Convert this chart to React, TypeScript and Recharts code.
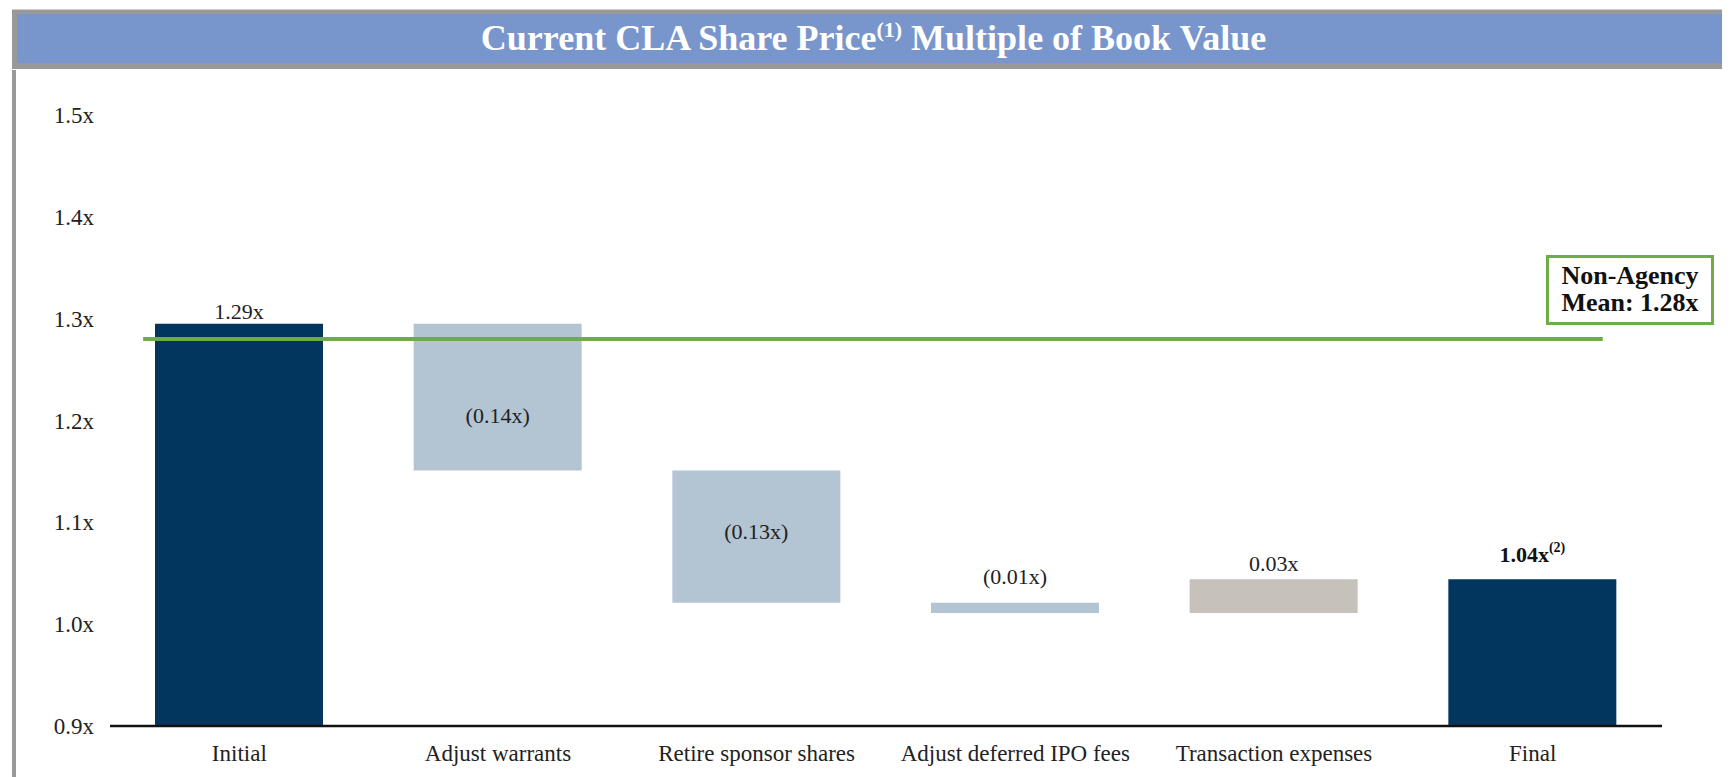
import { Bar, BarChart, Cell, LabelList, ReferenceLine, XAxis, YAxis } from 'recharts'

const categories = [
  'Initial',
  'Adjust warrants',
  'Retire sponsor shares',
  'Adjust deferred IPO fees',
  'Transaction expenses',
  'Final',
]
const startValue = 1.295
const steps = [-0.144, -0.13, -0.01, 0.033]
const valueLabels = ['1.29x', '(0.14x)', '(0.13x)', '(0.01x)', '0.03x', '1.04x']
const yTicks = [0.9, 1.0, 1.1, 1.2, 1.3, 1.4, 1.5]
const peerMean = 1.28

const SERIF = "'Liberation Serif', 'Times New Roman', serif"
const NAVY = '#03365f'
const DOWN = '#b3c4d3'
const UP = '#c6c1ba'
const GREEN = '#6fac47'

// waterfall: each row carries [low, high]
function buildRows() {
  const rows: { name: string; range: [number, number]; kind: string }[] = []
  rows.push({ name: categories[0], range: [0.9, startValue], kind: 'total' })
  let level = startValue
  steps.forEach((s, i) => {
    const next = level + s
    rows.push({ name: categories[i + 1], range: [Math.min(level, next), Math.max(level, next)], kind: s < 0 ? 'down' : 'up' })
    level = next
  })
  rows.push({ name: categories[5], range: [0.9, level], kind: 'total' })
  return rows
}

const rows = buildRows()
const fillFor = (kind: string) => (kind === 'total' ? NAVY : kind === 'down' ? DOWN : UP)

function BarLabel(props: any) {
  const { x, y, width, height, index } = props
  const top = Math.min(y, y + height)
  const cx = x + width / 2
  const text = valueLabels[index]
  if (index === 1 || index === 2) {
    const mid = top + Math.abs(height) / 2 + (index === 1 ? 18 : -5)
    return (
      <text x={cx} y={mid} dy="0.35em" textAnchor="middle" fontSize={22} fill="#222" fontFamily={SERIF}>
        {text}
      </text>
    )
  }
  if (index === 5) {
    return (
      <text x={cx} y={top - 17} textAnchor="middle" fontSize={22} fontWeight="bold" fill="#111" fontFamily={SERIF}>
        {text}
        <tspan fontSize={14} dy={-10}>(2)</tspan>
      </text>
    )
  }
  const gap = index === 3 ? 19 : index === 4 ? 8 : 5
  return (
    <text x={cx} y={top - gap} textAnchor="middle" fontSize={22} fill="#222" fontFamily={SERIF}>
      {text}
    </text>
  )
}

// mean line does not run the full plot width: trim it in band units
function MeanLine(props: any) {
  const { x1, x2, y1 } = props
  const band = (x2 - x1) / categories.length
  const start = x1 + band * 0.128
  const end = x1 + band * 5.771
  return <line x1={start} x2={end} y1={y1} y2={y1} stroke={GREEN} strokeWidth={4} />
}

export default function App() {
  return (
    <div style={{ position: 'relative', marginLeft: 4, marginTop: 1, width: 1718, height: 768, fontFamily: SERIF }}>
      <div style={{ borderTop: '1px solid #cfcfcf', background: '#999', height: 60, boxSizing: 'border-box', paddingTop: 4, paddingLeft: 5 }}>
        <div
          style={{
            background: '#7896cc',
            height: 49,
            color: '#fff',
            fontWeight: 'bold',
            fontSize: 36,
            lineHeight: '49px',
            textAlign: 'center',
          }}
        >
          Current CLA Share Price<sup style={{ fontSize: 22, lineHeight: 0 }}>(1)</sup> Multiple of Book Value
        </div>
      </div>
      <div style={{ position: 'absolute', left: 0, top: 61, width: 4, height: 707, background: '#999' }} />
      <div style={{ position: 'absolute', left: 0, top: 61 }}>
        <BarChart width={1718} height={707} data={rows} margin={{ top: 45, right: 68, bottom: 11, left: 8 }} barSize={168}>
          <XAxis
            dataKey="name"
            height={40}
            tickLine={false}
            tickSize={0}
            tickMargin={19}
            axisLine={{ stroke: '#111', strokeWidth: 2.5 }}
            tick={{ fontSize: 23, fill: '#222', fontFamily: SERIF }}
            interval={0}
          />
          <YAxis
            domain={[0.9, 1.5]}
            ticks={yTicks}
            width={90}
            axisLine={false}
            tickLine={false}
            tickSize={0}
            tickMargin={16}
            tickFormatter={(v: number) => `${v.toFixed(1)}x`}
            tick={{ fontSize: 23, fill: '#222', fontFamily: SERIF }}
          />
          <Bar dataKey="range" isAnimationActive={false}>
            {rows.map((r, i) => (
              <Cell key={i} fill={fillFor(r.kind)} />
            ))}
            <LabelList dataKey="range" content={BarLabel} />
          </Bar>
          <ReferenceLine y={peerMean} stroke={GREEN} strokeWidth={4} shape={MeanLine} />
        </BarChart>
      </div>
      <div
        style={{
          position: 'absolute',
          left: 1534,
          top: 246,
          width: 168,
          height: 70,
          boxSizing: 'border-box',
          border: `3px solid ${GREEN}`,
          background: '#fff',
          fontWeight: 'bold',
          fontSize: 26,
          lineHeight: '27px',
          textAlign: 'center',
          color: '#111',
          paddingTop: 4,
          whiteSpace: 'nowrap',
        }}
      >
        Non-Agency
        <br />
        Mean: {peerMean.toFixed(2)}x
      </div>
    </div>
  )
}
